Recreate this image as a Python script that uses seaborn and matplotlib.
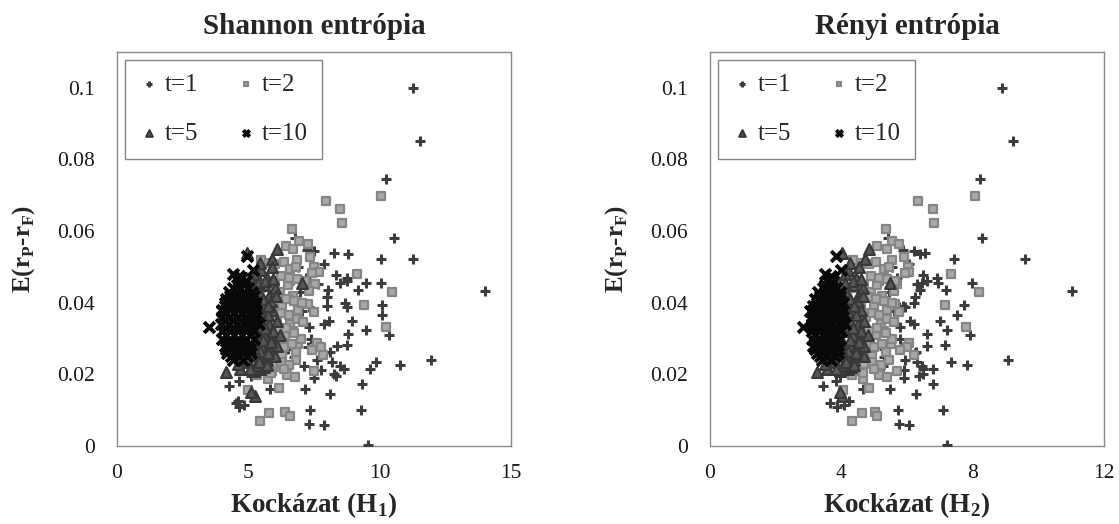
import numpy as np
import pandas as pd
import matplotlib
matplotlib.use("Agg")
import matplotlib.pyplot as plt
import seaborn as sns

# t=1 portfolios: risk by Shannon (H1), risk by Renyi (H2), excess return
t1_h1 = [11.28, 11.53, 10.24, 10.54, 6.78, 7.22, 7.50, 8.26, 8.79, 10.07, 11.28, 7.88, 8.33, 8.74,
         8.49, 8.74, 9.47, 10.07, 7.66, 9.16, 14.03, 8.04, 7.98, 7.98, 8.68, 8.74, 7.32, 7.03, 10.10,
         10.10, 8.96, 8.07, 7.90, 9.47, 10.37, 8.79, 7.32, 8.74, 8.36, 8.10, 7.85, 7.26, 8.20, 8.50,
         8.65, 8.35, 8.27, 7.75, 7.50, 7.12, 6.74, 9.86, 9.63, 10.77, 11.94, 9.31, 8.10, 7.16, 5.83,
         4.25, 4.66, 5.10, 4.53, 4.66, 4.85, 4.60, 7.34, 9.30, 7.30, 7.90, 9.56,
         6.90, 7.20, 6.95, 6.60, 7.40, 6.50, 6.20, 7.60, 5.70, 5.40]
t1_h2 = [8.91, 9.24, 8.22, 8.30, 5.43, 5.89, 6.22, 6.55, 6.40, 7.44, 9.59, 6.05, 6.50, 6.93,
         6.45, 6.60, 6.95, 7.97, 6.30, 7.18, 11.02, 6.39, 6.24, 5.89, 6.22, 5.94, 5.75, 5.60, 7.73,
         7.51, 7.02, 6.10, 6.20, 7.21, 7.92, 6.62, 5.80, 7.15, 6.60, 6.27, 6.25, 5.85, 6.30, 6.45,
         6.50, 6.38, 6.50, 5.92, 5.92, 5.26, 5.30, 7.33, 6.80, 7.82, 9.09, 6.80, 6.27, 5.48, 4.67,
         3.45, 3.83, 3.96, 3.66, 3.87, 4.07, 4.23, 5.72, 7.09, 5.77, 6.06, 7.21,
         5.55, 5.70, 5.45, 5.20, 5.80, 5.30, 5.00, 5.95, 4.40, 4.30]
t1_y = [0.1000, 0.0850, 0.0745, 0.0580, 0.0580, 0.0548, 0.0545, 0.0538, 0.0536, 0.0523, 0.0523, 0.0507, 0.0477, 0.0470,
        0.0455, 0.0460, 0.0455, 0.0455, 0.0452, 0.0435, 0.0433, 0.0435, 0.0415, 0.0392, 0.0400, 0.0387, 0.0387, 0.0378, 0.0394,
        0.0366, 0.0348, 0.0348, 0.0340, 0.0324, 0.0311, 0.0313, 0.0331, 0.0282, 0.0280, 0.0262, 0.0259, 0.0276, 0.0234, 0.0222,
        0.0216, 0.0194, 0.0202, 0.0213, 0.0190, 0.0222, 0.0247, 0.0235, 0.0216, 0.0226, 0.0241, 0.0173, 0.0146, 0.0160, 0.0160,
        0.0167, 0.0182, 0.0194, 0.0120, 0.0108, 0.0114, 0.0125, 0.0100, 0.0101, 0.0061, 0.0059, 0.0003,
        0.0500, 0.0470, 0.0430, 0.0360, 0.0300, 0.0270, 0.0230, 0.0240, 0.0205, 0.0230]

# t=2
t2_h1 = [10.05, 7.94, 8.49, 8.58, 6.67, 6.45, 6.70, 6.93, 7.27, 7.34, 5.48, 5.77, 6.03, 6.35, 6.58,
         6.86, 6.80, 7.50, 7.70, 7.44, 9.14, 10.48, 9.40, 10.24, 7.54, 7.30, 6.60, 6.70, 6.50, 6.90,
         7.27, 7.50, 7.60, 7.75, 7.44, 7.86, 6.90, 6.82, 6.47, 6.78, 7.50, 5.32, 5.76, 5.00, 6.15,
         5.80, 6.41, 6.57, 5.45, 6.00, 6.20, 5.80, 6.30, 6.10, 6.60, 5.90, 6.40, 6.00, 5.70, 6.30,
         5.60, 6.00, 5.50, 5.60, 6.70, 7.00, 5.40, 6.80, 5.90, 6.50,
         6.25, 6.55, 6.85, 7.15, 6.15, 6.45, 6.75, 7.05, 5.95, 6.25, 6.55, 6.85, 5.85, 6.15, 6.45,
         6.75, 5.75, 6.05, 6.35, 6.65, 5.65, 5.95, 6.25, 6.55, 7.10, 5.55, 5.85, 6.35]
t2_h2 = [8.07, 6.35, 6.78, 6.82, 5.36, 5.10, 5.38, 5.53, 5.77, 5.90, 4.35, 4.60, 4.85, 5.05, 5.30,
         5.55, 5.45, 6.03, 6.05, 5.95, 7.33, 8.19, 7.16, 7.79, 5.70, 5.60, 5.15, 5.25, 5.10, 5.40,
         5.65, 5.75, 6.05, 6.00, 5.80, 6.20, 5.50, 5.35, 5.15, 5.40, 5.70, 4.32, 4.67, 4.06, 4.85,
         4.64, 5.03, 5.10, 4.32, 4.70, 4.90, 4.60, 5.00, 4.75, 5.20, 4.70, 5.05, 4.80, 4.50, 4.95,
         4.45, 4.60, 4.35, 4.50, 5.30, 5.55, 4.40, 5.45, 4.55, 5.10,
         4.90, 5.15, 5.40, 5.65, 4.85, 5.05, 5.30, 5.55, 4.70, 4.95, 5.15, 5.40, 4.60, 4.85, 5.10,
         5.35, 4.55, 4.80, 5.00, 5.25, 4.45, 4.70, 4.95, 5.20, 5.60, 4.40, 4.65, 5.00]
t2_y = [0.0697, 0.0683, 0.0662, 0.0623, 0.0605, 0.0557, 0.0550, 0.0572, 0.0565, 0.0527, 0.0518, 0.0512, 0.0507, 0.0513, 0.0493,
        0.0520, 0.0499, 0.0500, 0.0486, 0.0482, 0.0481, 0.0430, 0.0394, 0.0333, 0.0452, 0.0433, 0.0460, 0.0420, 0.0410, 0.0380,
        0.0395, 0.0375, 0.0288, 0.0276, 0.0268, 0.0254, 0.0286, 0.0262, 0.0197, 0.0193, 0.0210, 0.0198, 0.0186, 0.0156, 0.0162,
        0.0093, 0.0096, 0.0084, 0.0069, 0.0450, 0.0430, 0.0400, 0.0390, 0.0360, 0.0340, 0.0330, 0.0310, 0.0290, 0.0270, 0.0250,
        0.0240, 0.0220, 0.0440, 0.0360, 0.0320, 0.0300, 0.0300, 0.0240, 0.0210, 0.0450,
        0.0475, 0.0470, 0.0465, 0.0460, 0.0415, 0.0410, 0.0405, 0.0400, 0.0370, 0.0370, 0.0365, 0.0355,
        0.0325, 0.0320, 0.0330, 0.0315, 0.0285, 0.0280, 0.0275, 0.0285, 0.0245, 0.0230, 0.0235, 0.0225,
        0.0345, 0.0265, 0.0205, 0.0215]

# t=5
t5_h1 = [4.94, 6.08, 5.90, 7.03, 4.15, 5.25, 5.10, 5.89, 4.70, 5.20, 5.45,
         5.50, 5.70, 5.30, 5.90, 5.60, 5.40, 5.80, 6.00, 5.30, 5.60, 5.90, 5.20, 5.50, 5.80, 6.10,
         5.30, 5.60, 5.90, 5.20, 5.50, 5.80, 6.10, 5.10, 5.40, 5.70, 5.00, 5.30, 5.60, 4.90, 5.95,
         6.20, 5.15, 5.45, 5.05, 5.00, 6.00, 4.95, 5.75,
         5.35, 5.65, 5.95, 5.25, 5.55, 5.85, 5.15, 5.45, 5.75, 5.35, 5.65, 5.25, 5.55, 5.85,
         5.45, 5.75, 5.20, 4.60, 5.40, 5.70, 5.05, 6.05]
t5_h2 = [4.01, 4.84, 4.72, 5.48, 3.25, 4.01, 3.95, 4.60, 3.55, 3.95, 4.20,
         4.20, 4.45, 4.10, 4.55, 4.35, 4.15, 4.50, 4.65, 4.05, 4.30, 4.60, 4.00, 4.25, 4.50, 4.70,
         4.05, 4.35, 4.55, 4.00, 4.25, 4.45, 4.70, 3.90, 4.15, 4.40, 3.80, 4.05, 4.30, 3.70, 4.60,
         4.80, 3.95, 4.25, 3.85, 3.90, 4.70, 3.75, 4.45,
         4.10, 4.35, 4.60, 4.00, 4.25, 4.50, 3.95, 4.20, 4.40, 4.10, 4.35, 4.00, 4.25, 4.55,
         4.20, 4.45, 4.00, 3.50, 4.15, 4.40, 3.85, 4.65]
t5_y = [0.0538, 0.0550, 0.0522, 0.0456, 0.0207, 0.0139, 0.0150, 0.0253, 0.0215, 0.0210, 0.0215,
        0.0490, 0.0470, 0.0480, 0.0500, 0.0450, 0.0430, 0.0420, 0.0440, 0.0400, 0.0390, 0.0380, 0.0370, 0.0350, 0.0340, 0.0350,
        0.0320, 0.0310, 0.0300, 0.0290, 0.0280, 0.0270, 0.0280, 0.0260, 0.0250, 0.0240, 0.0235, 0.0225, 0.0220, 0.0245, 0.0320,
        0.0310, 0.0440, 0.0510, 0.0470, 0.0330, 0.0250, 0.0280, 0.0365,
        0.0455, 0.0460, 0.0465, 0.0415, 0.0410, 0.0405, 0.0385, 0.0375, 0.0390, 0.0335, 0.0330, 0.0300, 0.0295, 0.0290,
        0.0265, 0.0260, 0.0270, 0.0230, 0.0235, 0.0225, 0.0215, 0.0420]

# t=10
t10_h1 = [4.6, 4.9, 4.4, 4.7, 5.0, 4.3, 4.6, 4.9, 5.2, 4.1, 4.4, 4.7, 5.0, 5.3,
          4.0, 4.3, 4.6, 4.9, 5.2, 4.0, 4.3, 4.6, 4.9, 5.3, 3.95, 4.25, 4.55, 4.85, 5.15, 5.4,
          4.0, 4.3, 4.6, 4.9, 5.2, 4.0, 4.3, 4.6, 4.9, 5.2, 4.1, 4.4, 4.7, 5.0,
          4.2, 4.5, 4.8, 5.1, 4.4, 4.8, 4.94, 5.17, 4.66, 4.40, 3.51, 3.98, 4.15, 4.45, 4.75, 5.05,
          4.15, 4.45, 4.75, 5.05, 4.15, 4.45, 4.75, 5.05,
          4.75, 4.55, 4.85, 4.25, 4.55, 4.85, 5.15, 4.15, 4.45, 4.75, 5.05, 4.10, 4.40, 4.70, 5.00, 5.25,
          4.10, 4.40, 4.70, 5.00, 5.30, 4.10, 4.40, 4.70, 5.00, 4.25, 4.55, 4.85, 4.35, 4.65, 4.95]
t10_h2 = [3.55, 3.75, 3.45, 3.65, 3.85, 3.35, 3.55, 3.75, 3.95, 3.25, 3.45, 3.65, 3.85, 4.05,
          3.15, 3.40, 3.60, 3.80, 4.00, 3.10, 3.35, 3.60, 3.80, 4.05, 3.10, 3.30, 3.50, 3.70, 3.90, 4.10,
          3.10, 3.35, 3.55, 3.75, 4.00, 3.10, 3.30, 3.55, 3.75, 3.95, 3.15, 3.40, 3.60, 3.85,
          3.25, 3.45, 3.70, 3.90, 3.40, 3.70, 3.83, 4.00, 3.70, 3.50, 2.82, 3.05, 3.20, 3.45, 3.65, 3.85,
          3.20, 3.45, 3.65, 3.85, 3.20, 3.45, 3.65, 3.90,
          3.65, 3.50, 3.70, 3.30, 3.50, 3.70, 3.95, 3.20, 3.40, 3.65, 3.85, 3.15, 3.35, 3.60, 3.80, 4.00,
          3.15, 3.35, 3.60, 3.80, 4.05, 3.15, 3.35, 3.60, 3.80, 3.25, 3.50, 3.70, 3.35, 3.55, 3.80]
t10_y = [0.046, 0.046, 0.044, 0.044, 0.044, 0.042, 0.042, 0.042, 0.042, 0.040, 0.040, 0.040, 0.040, 0.040,
         0.038, 0.038, 0.038, 0.038, 0.038, 0.036, 0.036, 0.036, 0.036, 0.036, 0.034, 0.034, 0.034, 0.034, 0.034, 0.034,
         0.032, 0.032, 0.032, 0.032, 0.032, 0.030, 0.030, 0.030, 0.030, 0.030, 0.028, 0.028, 0.028, 0.028,
         0.026, 0.026, 0.026, 0.026, 0.024, 0.024, 0.0529, 0.0490, 0.0475, 0.0480, 0.0333, 0.0378, 0.037, 0.037, 0.037, 0.037,
         0.031, 0.031, 0.031, 0.031, 0.027, 0.027, 0.027, 0.027,
         0.047, 0.045, 0.045, 0.043, 0.043, 0.043, 0.043, 0.041, 0.041, 0.041, 0.041, 0.039, 0.039, 0.039, 0.039, 0.039,
         0.035, 0.035, 0.035, 0.035, 0.035, 0.033, 0.033, 0.033, 0.033, 0.029, 0.029, 0.029, 0.025, 0.025, 0.025]

labels = ["t=1", "t=2", "t=5", "t=10"]
series = [(t1_h1, t1_h2, t1_y), (t2_h1, t2_h2, t2_y), (t5_h1, t5_h2, t5_y), (t10_h1, t10_h2, t10_y)]
styles = [
    dict(marker="+", s=45, color="#3c3c3c", linewidths=2.2),
    dict(marker="s", s=30, color="#a8a8a8", edgecolor="#858585", linewidth=1.6),
    dict(marker="^", s=60, color="#585858", edgecolor="#383838", linewidth=1.6),
    dict(marker="x", s=60, color="#080808", linewidths=2.8),
]

sns.set_style("white")
plt.rcParams["font.family"] = ["Liberation Serif", "DejaVu Serif"]
plt.rcParams["mathtext.fontset"] = "custom"
plt.rcParams["mathtext.rm"] = "Liberation Serif"
plt.rcParams["mathtext.bf"] = "Liberation Serif:bold"

fig = plt.figure(figsize=(11.19, 5.24), dpi=100)
ax1 = fig.add_axes([0.1046, 0.1489, 0.352, 0.752])
ax2 = fig.add_axes([0.6345, 0.1489, 0.352, 0.752])

panels = [
    (ax1, 0, "Shannon entrópia", r"Kockázat (H$_\mathbf{1}$)", [0, 5, 10, 15], 15),
    (ax2, 1, "Rényi entrópia", r"Kockázat (H$_\mathbf{2}$)", [0, 4, 8, 12], 12),
]

for ax, col, title, xlab, xt, xmax in panels:
    for lab, ser, st in zip(labels, series, styles):
        df = pd.DataFrame({"x": ser[col], "y": ser[2]})
        sns.scatterplot(data=df, x="x", y="y", ax=ax, label=lab, zorder=3, **st)
    ax.set_xlim(0, xmax)
    ax.set_ylim(0, 0.11)
    ax.set_xticks(xt)
    ax.set_xticklabels([str(v) for v in xt])
    ax.set_yticks([0, 0.02, 0.04, 0.06, 0.08, 0.1])
    ax.set_yticklabels(["0", "0.02", "0.04", "0.06", "0.08", "0.1"])
    ax.tick_params(length=0, labelsize=15.5, colors="#1a1a1a")
    ax.tick_params(axis="y", pad=16)
    ax.tick_params(axis="x", pad=13)
    for sp in ax.spines.values():
        sp.set_color("#8c8c8c")
        sp.set_linewidth(1.0)
    ax.set_title(title, fontsize=21, fontweight="bold", pad=13)
    ax.set_xlabel(xlab, fontsize=19.5, fontweight="bold", labelpad=5)
    ax.set_ylabel(r"E(r$_\mathbf{P}$-r$_\mathbf{F}$)", fontsize=18, fontweight="bold")
    ax.yaxis.set_label_coords(-0.203, 0.5)

    h, l = ax.get_legend_handles_labels()
    order = [0, 2, 1, 3]
    leg = ax.legend([h[i] for i in order], [l[i] for i in order], ncol=2, loc="upper left",
                    bbox_to_anchor=(0.02, 0.98), borderaxespad=0, fontsize=18, frameon=True,
                    fancybox=False, handletextpad=0.25, columnspacing=1.5, markerscale=0.6,
                    borderpad=0.55, labelspacing=1.05, handlelength=0.8)
    leg.get_frame().set_edgecolor("#666666")
    leg.get_frame().set_linewidth(1.0)

fig.savefig("out.png", dpi=100)
